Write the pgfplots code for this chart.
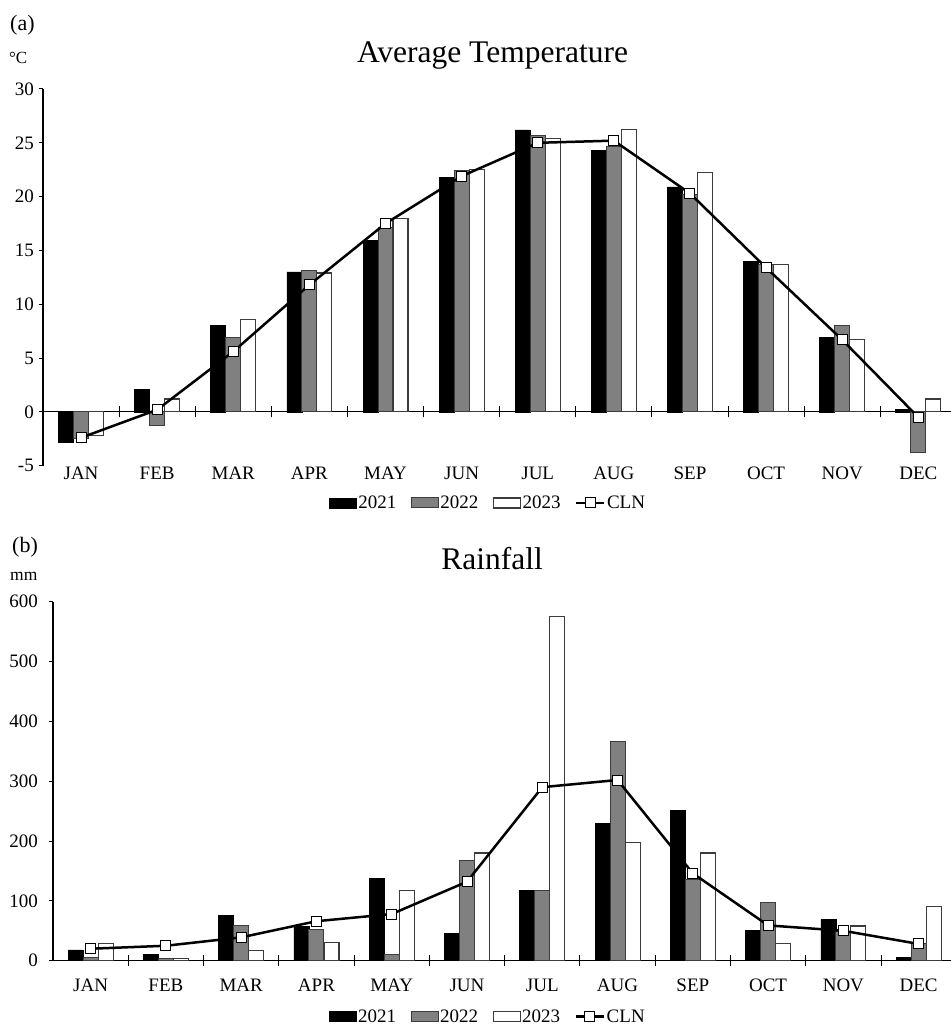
\documentclass[border=0pt]{standalone}
\usepackage{pgfplots}
\pgfplotsset{compat=1.18}
\usepackage{fontspec}
\setmainfont{Liberation Serif}

\definecolor{barGray}{RGB}{128,128,128}
\definecolor{edgeGray}{RGB}{60,60,60}

\newcommand{\lbl}{\fontsize{19bp}{21bp}\selectfont}

\pgfplotsset{
  monthaxis/.style={
    scale only axis,
    xmin=-0.5, xmax=11.43,
    xtick={0,...,11},
    xticklabels={JAN,FEB,MAR,APR,MAY,JUN,JUL,AUG,SEP,OCT,NOV,DEC},
    major x tick style={draw=none},
    axis lines*=left,
    axis line style={line width=1.1bp, black},
    ytick align=outside,
    major tick length=4bp,
    major y tick style={line width=1bp, black},
    tick label style={font=\lbl},
    /pgf/number format/assume math mode=true,
    xticklabel style={inner sep=0pt},
    yticklabel style={inner sep=0pt},
    clip=false,
    legend columns=4,
    legend style={draw=none, fill=none, font=\lbl, inner sep=0pt,
      nodes={inner sep=1.5bp},
      /tikz/every even column/.append style={column sep=13bp}},
  },
  barleg/.style={legend image code/.code={\draw[##1] (0bp,-5bp) rectangle (27bp,5bp);}},
  y21/.style={ybar, bar width=15bp, bar shift=-15bp, fill=black, draw=black, line width=0.6bp, barleg},
  y22/.style={ybar, bar width=15bp, bar shift=0bp, fill=barGray, draw=edgeGray, line width=1bp, barleg},
  y23/.style={ybar, bar width=15bp, bar shift=15bp, fill=white, draw=edgeGray, line width=1.1bp, barleg},
  cln/.style={sharp plot, black, line width=2.5bp, mark=square*, mark size=5bp,
    mark options={fill=white, draw=black, line width=1bp, solid},
    legend image code/.code={\draw[mark repeat=2, mark phase=2, ##1] plot coordinates {(0bp,0bp) (14bp,0bp) (28bp,0bp)};}},
}

\begin{document}
\begin{tikzpicture}
\useasboundingbox (0,0) rectangle (951bp,1026bp);

% (a) temperature
\node[anchor=base west, inner sep=0pt, font=\fontsize{22bp}{24bp}\selectfont] at (10bp,995bp) {(a)};
\node[anchor=base west, inner sep=0pt, font=\fontsize{17bp}{19bp}\selectfont] at (9bp,962bp) {°C};
\node[anchor=base, inner sep=0pt, font=\fontsize{31.5bp}{34bp}\selectfont] at (492.5bp,963bp) {Average Temperature};

\begin{axis}[monthaxis,
  at={(43bp,560.3bp)}, anchor=south west,
  width=908bp, height=376.7bp,
  ymin=-5, ymax=30, ytick={-5,0,...,30},
  x axis line style={draw=none},
  xticklabel style={yshift=-1bp},
  yticklabel style={xshift=-5bp},
  legend style={at={(0.49,-0.099)}, anchor=center},
]
\draw[line width=1.1bp] (axis cs:-0.5,0) -- (axis cs:11.43,0);
\pgfplotsinvokeforeach{0.5,1.5,2.5,3.5,4.5,5.5,6.5,7.5,8.5,9.5,10.5}{
  \draw[line width=1bp] (axis cs:#1,-0.5) -- (axis cs:#1,0.5);}
\addplot[y21] coordinates {(0,-2.8) (1,2.1) (2,8.0) (3,13.0) (4,15.9) (5,21.8) (6,26.2) (7,24.3) (8,20.9) (9,14.0) (10,6.9) (11,0.2)};
\addlegendentry{2021}
\addplot[y22] coordinates {(0,-2.5) (1,-1.3) (2,6.9) (3,13.1) (4,17.1) (5,22.4) (6,25.7) (7,24.7) (8,20.2) (9,13.7) (10,8.0) (11,-3.8)};
\addlegendentry{2022}
\addplot[y23] coordinates {(0,-2.2) (1,1.2) (2,8.6) (3,12.9) (4,18.0) (5,22.5) (6,25.4) (7,26.2) (8,22.2) (9,13.7) (10,6.7) (11,1.2)};
\addlegendentry{2023}
\addplot[cln] coordinates {(0,-2.4) (1,0.2) (2,5.6) (3,11.8) (4,17.5) (5,21.9) (6,25.0) (7,25.2) (8,20.3) (9,13.4) (10,6.7) (11,-0.5)};
\addlegendentry{CLN}
\end{axis}

% (b) rainfall
\node[anchor=base west, inner sep=0pt, font=\fontsize{22bp}{24bp}\selectfont] at (12bp,473bp) {(b)};
\node[anchor=base west, inner sep=0pt, font=\fontsize{17.5bp}{19bp}\selectfont] at (10bp,445bp) {mm};
\node[anchor=base, inner sep=0pt, font=\fontsize{31.5bp}{34bp}\selectfont] at (492bp,456bp) {Rainfall};

\begin{axis}[monthaxis,
  at={(53bp,65.3bp)}, anchor=south west,
  width=898bp, height=359bp,
  ymin=0, ymax=600, ytick={0,100,...,600},
  minor xtick={0.5,1.5,2.5,3.5,4.5,5.5,6.5,7.5,8.5,9.5,10.5},
  xtick align=center,
  minor tick length=10.7bp,
  minor x tick style={line width=1bp, black},
  xticklabel style={yshift=-16bp},
  yticklabel style={xshift=-11bp},
  legend style={at={(0.484,-0.156)}, anchor=center},
]
\addplot[y21] coordinates {(0,18) (1,11) (2,76) (3,57) (4,137) (5,45) (6,118) (7,230) (8,251) (9,50) (10,69) (11,5)};
\addlegendentry{2021}
\addplot[y22] coordinates {(0,5) (1,4) (2,58) (3,52) (4,10) (5,168) (6,117) (7,367) (8,136) (9,98) (10,48) (11,28)};
\addlegendentry{2022}
\addplot[y23] coordinates {(0,29) (1,4) (2,17) (3,30) (4,117) (5,180) (6,576) (7,197) (8,180) (9,29) (10,58) (11,91)};
\addlegendentry{2023}
\addplot[cln] coordinates {(0,20) (1,25) (2,39) (3,66) (4,78) (5,132) (6,290) (7,302) (8,146) (9,59) (10,50) (11,28)};
\addlegendentry{CLN}
\end{axis}
\end{tikzpicture}
\end{document}
